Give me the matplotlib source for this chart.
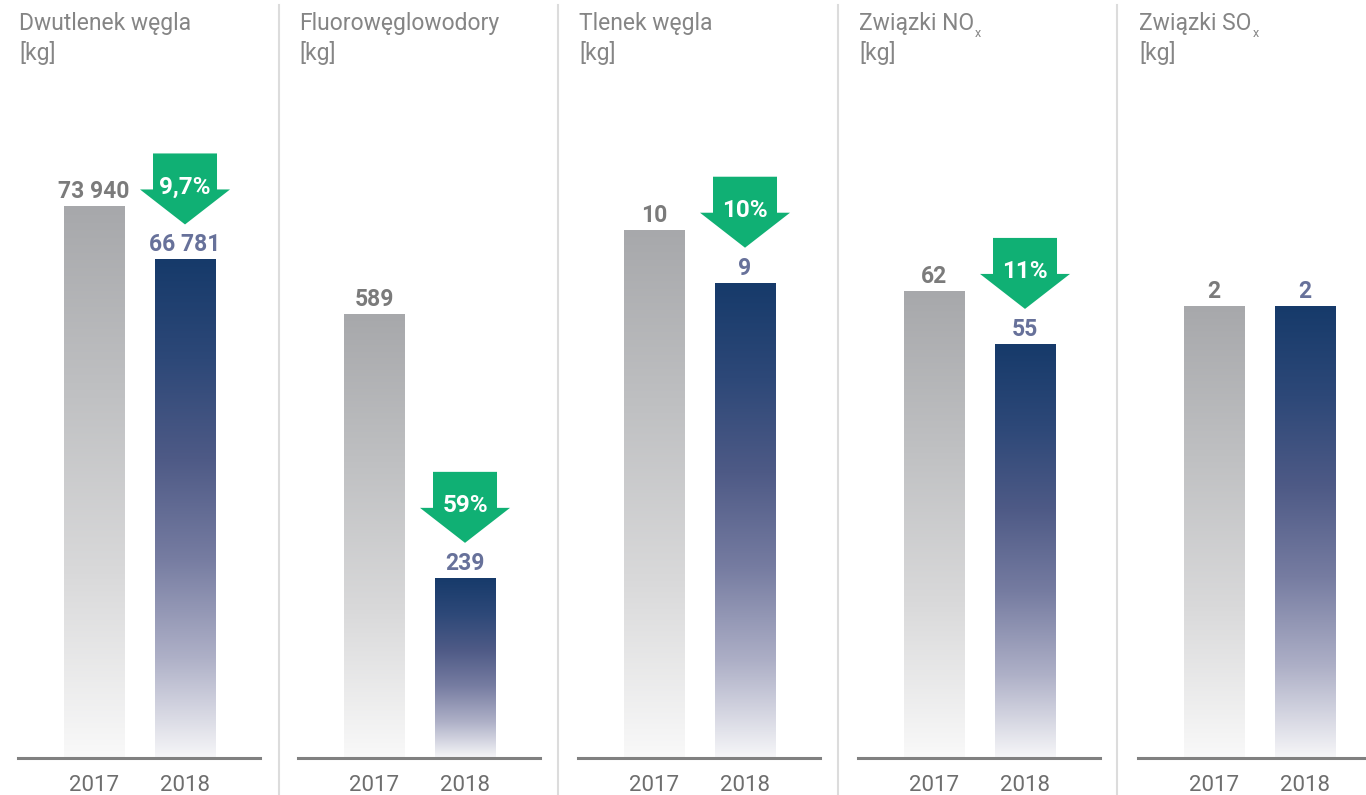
import numpy as np
import matplotlib
matplotlib.use('Agg')
import matplotlib.pyplot as plt
import matplotlib.transforms as mtransforms
from matplotlib.colors import LinearSegmentedColormap
from matplotlib.patches import Polygon

plt.rcParams['font.family'] = ['Roboto', 'DejaVu Sans']

titles = ['Dwutlenek węgla', 'Fluorowęglowodory', 'Tlenek węgla',
          'Związki NO', 'Związki SO']
subs = [None, None, None, 'x', 'x']
unit = '[kg]'
years = ['2017', '2018']
v2017 = [73940, 589, 10, 62, 2]
v2018 = [66781, 239, 9, 55, 2]
lab2017 = ['73 940', '589', '10', '62', '2']
lab2018 = ['66 781', '239', '9', '55', '2']
drops = ['9,7%', '59%', '10%', '11%', None]

# per-panel scale tops (each panel scaled on its own)
ytops = [88140, 873, 12.46, 87.4, 2.91]

W, H = 1366, 795
fig = plt.figure(figsize=(W / 100, H / 100), dpi=100)

grey_cmap = LinearSegmentedColormap.from_list(
    'g', ['#a7a8ab', '#bfc0c2', '#d9d9da', '#f9f9f9'])
navy_cmap = LinearSegmentedColormap.from_list(
    'n', [(0, '#163a6a'), (0.2, '#2d4878'), (0.4, '#4e5a86'),
          (0.6, '#767ca1'), (0.8, '#aeb0c7'), (1, '#f6f6f8')])
grad = np.linspace(0, 1, 256).reshape(-1, 1)

green = '#10b074'
title_col = '#858585'
lefts = [18, 298, 578, 858, 1138]
seps = [279, 558, 838, 1117]

for sx in seps:
    fig.add_artist(plt.Line2D([sx / W, sx / W], [0, 1 - 5 / H],
                              color='#dcdcdc', lw=1.5))

xpos = [0, 1]
bw = 0.66
for i in range(5):
    ax = fig.add_axes([lefts[i] / W, 1 - 758 / H, 242 / W, 658 / H])
    vals = [v2017[i], v2018[i]]
    labs = [lab2017[i], lab2018[i]]
    cmaps = [grey_cmap, navy_cmap]
    lcols = ['#7b7b7b', '#67719a']
    bars = ax.bar(xpos, vals, width=bw, color='none', edgecolor='none')
    for b, x, v, cm, lab, lc in zip(bars, xpos, vals, cmaps, labs, lcols):
        im = ax.imshow(grad, cmap=cm, aspect='auto', origin='upper',
                       extent=(x - bw / 2, x + bw / 2, 0, v), zorder=2)
        im.set_clip_path(b)
        ax.annotate(lab, xy=(x, v), xytext=(0, 8), textcoords='offset pixels',
                    ha='center', va='baseline', fontsize=16.5,
                    fontweight='bold', color=lc)
    if drops[i]:
        x, v = xpos[1], v2018[i]
        tip = 35
        pts = [(0, tip), (-45, tip + 35), (-32, tip + 35), (-32, tip + 71),
               (32, tip + 71), (32, tip + 35), (45, tip + 35)]
        tr = (mtransforms.Affine2D().scale(fig.dpi / 100)
              + mtransforms.ScaledTranslation(x, v, ax.transData))
        ax.add_patch(Polygon(pts, closed=True, facecolor=green,
                             edgecolor='none', transform=tr, clip_on=False,
                             zorder=4))
        ax.annotate(drops[i], xy=(x, v), xytext=(0, tip + 37),
                    textcoords='offset pixels', ha='center', va='center',
                    fontsize=17.5, fontweight='bold', color='white', zorder=5)
    ax.set_xlim(-0.835, 1.824)
    ax.set_ylim(0, ytops[i])
    ax.set_xticks(xpos)
    ax.set_xticklabels(years, fontsize=16, color='#6e6e6e')
    ax.tick_params(axis='x', length=0, pad=12)
    ax.set_yticks([])
    for s in ['top', 'left', 'right']:
        ax.spines[s].set_visible(False)
    ax.spines['bottom'].set_color('#808080')
    ax.spines['bottom'].set_linewidth(2.2)
    ax.patch.set_alpha(0)

    t = fig.text((lefts[i] + 1) / W, 1 - 30 / H, titles[i], ha='left',
                 va='baseline', fontsize=16.5, color=title_col)
    if subs[i]:
        fig.canvas.draw()
        bb = t.get_window_extent()
        fig.text((bb.x1 + 1) / W, 1 - 37 / H, subs[i], ha='left',
                 va='baseline', fontsize=9, color=title_col)
    fig.text((lefts[i] + 1) / W, 1 - 60 / H, unit, ha='left', va='baseline',
             fontsize=16.5, color=title_col)

fig.savefig('out.png', dpi=100)
